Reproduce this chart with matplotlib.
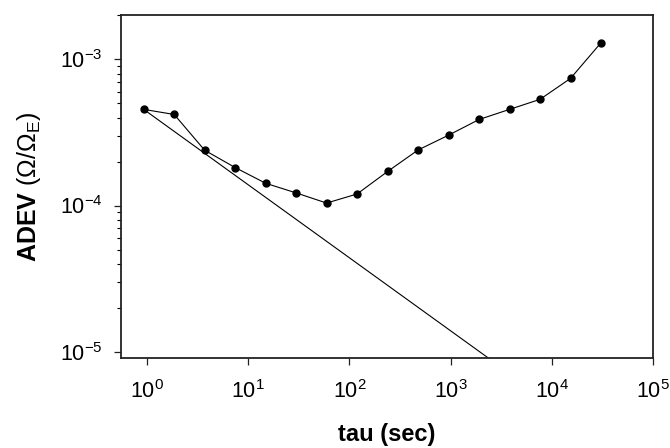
import matplotlib
matplotlib.use('Agg')
import matplotlib.pyplot as plt
from matplotlib.ticker import LogLocator, NullLocator, NullFormatter

plt.rcParams['font.family'] = ['Liberation Sans', 'DejaVu Sans']
plt.rcParams['mathtext.fontset'] = 'custom'
plt.rcParams['mathtext.rm'] = 'Liberation Sans'
plt.rcParams['mathtext.it'] = 'Liberation Sans:italic'
plt.rcParams['mathtext.bf'] = 'Liberation Sans:bold'

# Allan deviation data
tau = [0.93, 1.86, 3.72, 7.44, 14.9, 29.8, 59.5, 119, 238, 476,
       952, 1905, 3810, 7619, 15238, 30476]
adev = [4.55e-4, 4.20e-4, 2.39e-4, 1.82e-4, 1.42e-4, 1.22e-4, 1.04e-4, 1.20e-4,
        1.71e-4, 2.40e-4, 3.03e-4, 3.88e-4, 4.55e-4, 5.33e-4, 7.41e-4, 1.30e-3]

# white noise reference line (slope -1/2)
line_tau = [0.93, 1e4]
line_adev = [4.55e-4, 4.39e-6]

fig = plt.figure(figsize=(6.7, 4.48), dpi=100)
ax = fig.add_axes([0.180, 0.201, 0.795, 0.766])

ax.plot(line_tau, line_adev, color='black', lw=0.8)
ax.plot(tau, adev, color='black', lw=0.8, marker='o', markersize=5)

ax.set_xscale('log')
ax.set_yscale('log')
ax.set_xlim(0.55, 1e5)
ax.set_ylim(9.06e-6, 2.02e-3)

ax.xaxis.set_major_locator(LogLocator(base=10, numticks=10))
ax.xaxis.set_minor_locator(NullLocator())
ax.yaxis.set_major_locator(LogLocator(base=10, numticks=10))
ax.yaxis.set_minor_locator(LogLocator(base=10, subs=range(2, 10), numticks=10))
ax.yaxis.set_minor_formatter(NullFormatter())

ax.tick_params(axis='both', which='major', direction='out', length=5, width=0.9,
               labelsize=15.5, color='#222222')
ax.tick_params(axis='x', which='major', pad=11)
ax.tick_params(axis='y', which='major', pad=8)
ax.tick_params(axis='y', which='minor', direction='out', length=3, width=0.8)
ax.tick_params(top=False, right=False)

for s in ax.spines.values():
    s.set_linewidth(1.3)
    s.set_color('#222222')

ax.set_xlabel('tau (sec)', fontsize=17, fontweight='bold', labelpad=14)
ax.set_ylabel(r'$\mathbf{ADEV}$ $(\Omega/\Omega_\mathrm{E})$', fontsize=18, labelpad=12)

fig.savefig('out.png', dpi=100)
